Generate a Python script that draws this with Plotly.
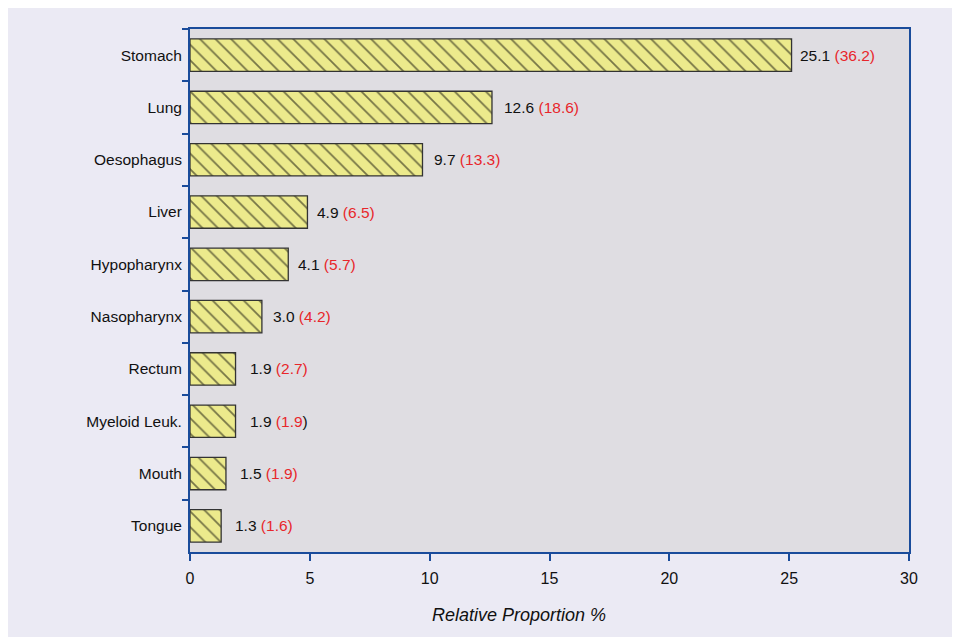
import plotly.graph_objects as go

# ---- data ----
categories = ["Stomach", "Lung", "Oesophagus", "Liver", "Hypopharynx",
              "Nasopharynx", "Rectum", "Myeloid Leuk.", "Mouth", "Tongue"]
values = [25.1, 12.6, 9.7, 4.9, 4.1, 3.0, 1.9, 1.9, 1.5, 1.3]
paren_values = [36.2, 18.6, 13.3, 6.5, 5.7, 4.2, 2.7, 1.9, 1.9, 1.6]
x_ticks = [0, 5, 10, 15, 20, 25, 30]

# ---- styles ----
FONT = "Liberation Sans, Arial, Helvetica, sans-serif"
BLUE = "#1A4C9B"
RED = "#E8262B"
BAR_FILL = "#ECEA8C"
label_gaps = [6, 10, 10, 8, 8, 9, 12, 12, 12, 12]
close_paren_black = [False, False, False, False, False, False, False, True, False, False]

fig = go.Figure()
fig.add_trace(go.Bar(
    x=values, y=categories, orientation="h",
    width=0.62,
    marker=dict(
        color=BAR_FILL,
        line=dict(color="#333333", width=1.3),
        pattern=dict(shape="\\", fgcolor="#000000", bgcolor=BAR_FILL,
                     size=11, solidity=0.16, fillmode="overlay"),
    ),
    hoverinfo="skip",
))

annotations = []
for cat, v, p, gap, blk in zip(categories, values, paren_values, label_gaps, close_paren_black):
    if blk:
        txt = f"{v:.1f} <span style='color:{RED}'>({p:.1f}</span>)"
    else:
        txt = f"{v:.1f} <span style='color:{RED}'>({p:.1f})</span>"
    annotations.append(dict(
        x=v, y=cat, xref="x", yref="y", text=txt, showarrow=False,
        xanchor="left", yanchor="middle", xshift=gap,
        font=dict(family=FONT, size=15.5, color="#111111"),
    ))

annotations.append(dict(
    x=0.4576, y=-0.1205, xref="paper", yref="paper",
    text="<i>Relative Proportion %</i>", showarrow=False,
    xanchor="center", yanchor="middle",
    font=dict(family=FONT, size=18, color="#111111"),
))

fig.update_layout(
    width=960, height=637,
    margin=dict(l=182, r=59, t=21, b=93),
    paper_bgcolor="#EBEAF4",
    plot_bgcolor="#DFDDE2",
    showlegend=False,
    annotations=annotations,
    font=dict(family=FONT, color="#111111"),
    xaxis=dict(
        range=[0, 30], tickvals=x_ticks, ticktext=[str(t) for t in x_ticks],
        showgrid=False, zeroline=False,
        showline=True, linecolor=BLUE, linewidth=2, mirror=True,
        ticks="outside", ticklen=7, tickwidth=1.5, tickcolor=BLUE,
        ticklabelstandoff=4,
        tickfont=dict(family=FONT, size=16, color="#111111"),
        fixedrange=True,
    ),
    yaxis=dict(
        categoryorder="array", categoryarray=categories, autorange="reversed",
        showgrid=False, zeroline=False,
        showline=True, linecolor=BLUE, linewidth=2, mirror=True,
        ticks="outside", ticklen=6, tickwidth=1.5, tickcolor=BLUE,
        tickson="boundaries", ticklabelstandoff=3,
        tickfont=dict(family=FONT, size=15.5, color="#111111"),
        fixedrange=True,
    ),
)

fig.write_html("out.html")
